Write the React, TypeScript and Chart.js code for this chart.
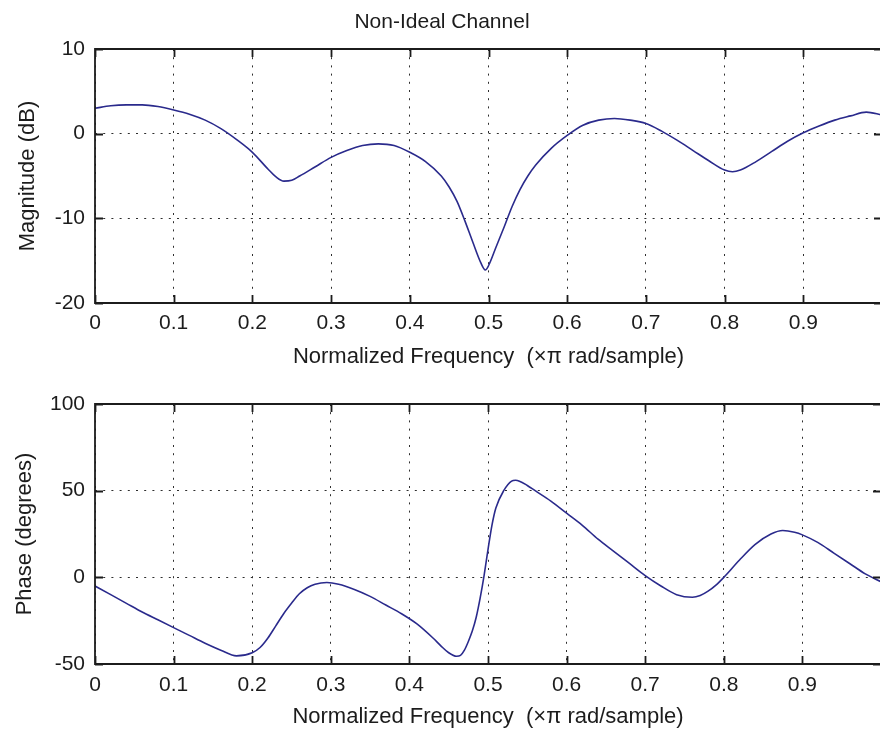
import React, { useEffect, useRef } from 'react';
import { Chart, registerables } from 'chart.js';

Chart.register(...registerables);

// Magnitude response samples (normalized frequency, dB)
const magFreq = [
  0, 0.02, 0.04, 0.06, 0.08, 0.1, 0.12, 0.14, 0.16, 0.18, 0.2, 0.22, 0.23, 0.24, 0.25,
  0.26, 0.28, 0.3, 0.32, 0.34, 0.36, 0.38, 0.4, 0.42, 0.44, 0.45, 0.46, 0.47, 0.48, 0.49,
  0.496, 0.5, 0.51, 0.52, 0.53, 0.54, 0.55, 0.56, 0.58, 0.6, 0.62, 0.64, 0.66, 0.68, 0.7,
  0.72, 0.74, 0.76, 0.78, 0.8, 0.81, 0.82, 0.84, 0.86, 0.88, 0.9, 0.92, 0.94, 0.96, 0.98,
  1.0,
];
const magDb = [
  3.0, 3.3, 3.4, 3.4, 3.2, 2.8, 2.3, 1.6, 0.6, -0.7, -2.2, -4.2, -5.1, -5.6, -5.5,
  -5.0, -3.9, -2.8, -2.0, -1.4, -1.2, -1.4, -2.2, -3.3, -5.0, -6.3, -8.0, -10.3, -12.8, -15.2,
  -16.1, -15.6, -13.3, -11.0, -8.6, -6.6, -5.0, -3.7, -1.7, -0.2, 1.0, 1.6, 1.8, 1.6, 1.2,
  0.3, -0.8, -2.0, -3.2, -4.3, -4.5, -4.3, -3.3, -2.1, -0.9, 0.1, 0.9, 1.6, 2.1, 2.55,
  2.2,
];

// Phase response samples (normalized frequency, degrees)
const phaseFreq = [
  0, 0.02, 0.04, 0.06, 0.08, 0.1, 0.12, 0.14, 0.16, 0.18, 0.2, 0.21, 0.22, 0.23, 0.24,
  0.25, 0.26, 0.27, 0.28, 0.295, 0.31, 0.33, 0.35, 0.37, 0.39, 0.41, 0.43, 0.44, 0.45, 0.46,
  0.465, 0.47, 0.475, 0.48, 0.485, 0.49, 0.495, 0.5, 0.505, 0.51, 0.52, 0.53, 0.535, 0.54, 0.55,
  0.56, 0.58, 0.6, 0.62, 0.64, 0.66, 0.68, 0.7, 0.72, 0.74, 0.76, 0.77, 0.78, 0.79, 0.8,
  0.82, 0.84, 0.86, 0.875, 0.89, 0.9, 0.92, 0.94, 0.96, 0.98, 1.0,
];
const phaseDeg = [
  -5, -10, -15, -20, -24.5, -29, -33.5, -38, -42, -45.3, -43.5, -40.5, -35, -28, -21,
  -15, -9.5, -6, -4, -3, -4, -7, -11, -16, -21, -27, -35, -39.5, -43.5, -45.5,
  -45, -42, -37, -31, -23, -12, 1, 16, 30, 40, 50, 55.5, 56, 55.5, 53,
  50, 44, 37, 30, 22, 15, 8, 1, -5, -10, -11.5, -10.5, -8, -4.5, 0,
  10, 19, 25, 27, 26, 24.5, 20, 14, 8, 2, -2.5,
];

const xTickLabels = ['0', '0.1', '0.2', '0.3', '0.4', '0.5', '0.6', '0.7', '0.8', '0.9'];
const titleText = 'Non-Ideal Channel';
const xAxisLabel = 'Normalized Frequency  (\u00d7\u03c0 rad/sample)';
const magLabel = 'Magnitude (dB)';
const phaseLabel = 'Phase (degrees)';

const CANVAS_W = 890;
const AREA_LEFT = 95;
const AREA_RIGHT = 884;
const FONT = '"Liberation Sans", Arial, Helvetica, sans-serif';
const INK = '#1c1c1c';
const GRID = '#2e2e2e';
const LINE = '#2a2a8c';

// Boxed axes with inward tick marks on all four sides
const boxPlugin = {
  id: 'boxAxes',
  afterDraw(chart: any) {
    const { ctx, chartArea: a, scales } = chart;
    const len = 8;
    ctx.save();
    ctx.strokeStyle = INK;
    ctx.lineWidth = 1.8;
    ctx.beginPath();
    ctx.rect(a.left, a.top, a.right - a.left, a.bottom - a.top);
    for (const t of scales.x.ticks) {
      const px = Math.round(scales.x.getPixelForValue(t.value)) + 0.5;
      ctx.moveTo(px, a.bottom);
      ctx.lineTo(px, a.bottom - len);
      ctx.moveTo(px, a.top);
      ctx.lineTo(px, a.top + len);
    }
    for (const t of scales.y.ticks) {
      const py = Math.round(scales.y.getPixelForValue(t.value)) + 0.5;
      ctx.moveTo(a.left, py);
      ctx.lineTo(a.left + len, py);
      ctx.moveTo(a.right, py);
      ctx.lineTo(a.right - len, py);
    }
    ctx.stroke();
    ctx.restore();
  },
};

type PanelProps = {
  top: number;
  height: number;
  areaTop: number;
  areaBottom: number;
  freq: number[];
  values: number[];
  yMin: number;
  yMax: number;
  yStep: number;
  yLabel: string;
  yLabelX: number;
  xLabelY: number;
  tickGap: number;
  title?: string;
};

function Panel(p: PanelProps) {
  const ref = useRef<HTMLCanvasElement>(null);

  useEffect(() => {
    const canvas = ref.current;
    if (!canvas) return;
    const tickFont = { family: FONT, size: 21 };
    const labelFont = { family: FONT, size: 22, lineHeight: 1.2 };
    const titleFont = { family: FONT, size: 21, weight: 'normal', lineHeight: 1.2 };
    const half = 22 * 1.2 / 2;
    const titleHalf = 21 * 1.2 / 2;

    const chart = new Chart(canvas, {
      type: 'line',
      data: {
        datasets: [
          {
            data: p.freq.map((f, i) => ({ x: f, y: p.values[i] })),
            borderColor: LINE,
            borderWidth: 1.6,
            pointRadius: 0,
            fill: false,
            cubicInterpolationMode: 'monotone',
          },
        ],
      },
      options: {
        animation: false,
        responsive: false,
        devicePixelRatio: 1,
        layout: {
          padding: {
            top: p.title ? 0 : p.areaTop,
            left: 0,
            right: CANVAS_W - AREA_RIGHT,
            bottom: 0,
          },
        },
        plugins: {
          legend: { display: false },
          tooltip: { enabled: false },
          title: p.title
            ? {
                display: true,
                text: p.title,
                color: INK,
                font: titleFont,
                padding: { top: 22 - titleHalf, bottom: p.areaTop - 22 - titleHalf },
              }
            : { display: false },
        },
        scales: {
          x: {
            type: 'linear',
            min: 0,
            max: 1,
            afterFit: (s: any) => {
              s.height = p.height - p.areaBottom;
            },
            grid: { color: GRID, lineWidth: 1, drawTicks: false },
            border: { display: false, dash: [2, 6.2] },
            ticks: {
              stepSize: 0.1,
              autoSkip: false,
              maxRotation: 0,
              padding: p.tickGap,
              color: INK,
              font: tickFont,
              callback: (_v: any, i: number) => xTickLabels[i] ?? '',
            },
            title: {
              display: true,
              text: xAxisLabel,
              color: INK,
              font: labelFont,
              padding: { top: 0, bottom: p.height - p.xLabelY - half },
            },
          },
          y: {
            min: p.yMin,
            max: p.yMax,
            afterFit: (s: any) => {
              s.width = AREA_LEFT;
            },
            grid: { color: GRID, lineWidth: 1, drawTicks: false },
            border: { display: false, dash: [2, 6.2] },
            ticks: {
              stepSize: p.yStep,
              padding: 10,
              color: INK,
              font: tickFont,
            },
            title: {
              display: true,
              text: p.yLabel,
              color: INK,
              font: labelFont,
              padding: { top: p.yLabelX - half, bottom: 0 },
            },
          },
        },
      },
      plugins: [boxPlugin],
    } as any);

    return () => chart.destroy();
  }, []);

  return (
    <canvas
      ref={ref}
      width={CANVAS_W}
      height={p.height}
      style={{ position: 'absolute', left: 0, top: p.top, width: CANVAS_W, height: p.height }}
    />
  );
}

export default function App() {
  return (
    <div
      style={{
        position: 'fixed',
        left: 0,
        top: 0,
        width: 880,
        height: 731,
        overflow: 'hidden',
        background: '#ffffff',
      }}
    >
      <Panel
        top={0}
        height={372}
        areaTop={49}
        areaBottom={303}
        freq={magFreq}
        values={magDb}
        yMin={-20}
        yMax={10}
        yStep={10}
        yLabel={magLabel}
        yLabelX={28}
        xLabelY={357}
        tickGap={8}
        title={titleText}
      />
      <Panel
        top={372}
        height={359}
        areaTop={32}
        areaBottom={292}
        freq={phaseFreq}
        values={phaseDeg}
        yMin={-50}
        yMax={100}
        yStep={50}
        yLabel={phaseLabel}
        yLabelX={25}
        xLabelY={345}
        tickGap={9}
      />
    </div>
  );
}
